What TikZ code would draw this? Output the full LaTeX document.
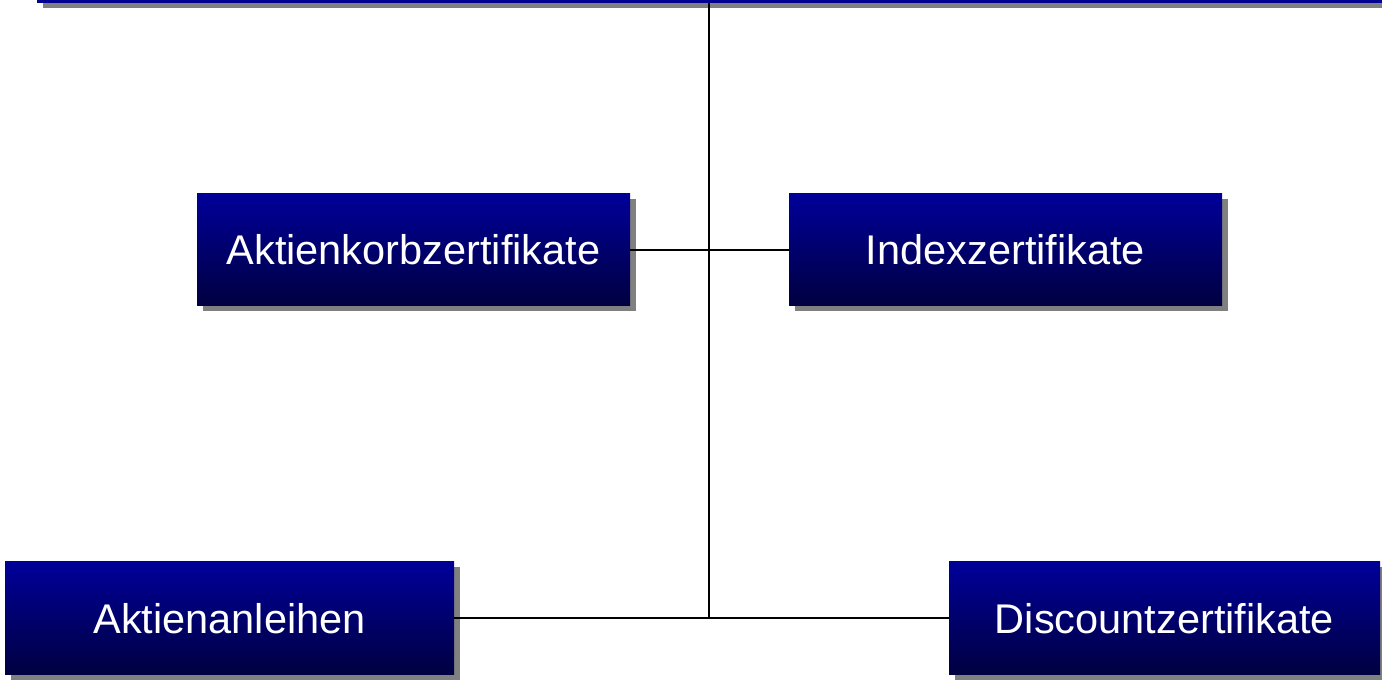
\documentclass[tikz,border=0pt]{standalone}
\usepackage{fontspec}
\setmainfont{Liberation Sans}
\usetikzlibrary{shadows}
\definecolor{boxtop}{RGB}{0,0,153}
\definecolor{boxbot}{RGB}{0,0,64}
\definecolor{shadowgray}{RGB}{128,128,128}
\tikzset{
  x=1pt, y=1pt,
  plainshadow/.style={drop shadow={shadow xshift=6pt, shadow yshift=-5pt, fill=shadowgray, opacity=1}},
  catbox/.style={rectangle, inner sep=0pt, minimum height=112pt,
    top color=boxtop, bottom color=boxbot, text=white,
    font=\fontsize{41.5}{50}\selectfont, plainshadow},
  link/.style={line width=2pt, black}
}
\begin{document}
\begin{tikzpicture}
\useasboundingbox (0,0) rectangle (1382,682);
% root box, mostly above the visible area
\node[rectangle, inner sep=0pt, fill=boxtop!95!black, plainshadow,
      minimum width=1383pt, minimum height=60pt] (root) at (728.5,709) {};
% junctions on the trunk
\coordinate (j1) at (709,432);
\coordinate (j2) at (709,65);
\draw[link] (root.south -| j2) -- (j2);
\node[catbox, minimum width=433pt] (korb) at (413.5,432) {Aktienkorbzertifikate};
\node[catbox, minimum width=433pt] (index) at (1005.5,432) {Indexzertifikate};
\node[catbox, minimum width=449pt, minimum height=113pt] (anl) at (229.5,63.5) {Aktienanleihen};
\node[catbox, minimum width=431pt, minimum height=113pt] (disc) at (1164.5,63.5) {Discountzertifikate};
\draw[link] (korb.east) -- (index.west);
\draw[link] (anl.east) -- (disc.west);
\end{tikzpicture}
\end{document}
